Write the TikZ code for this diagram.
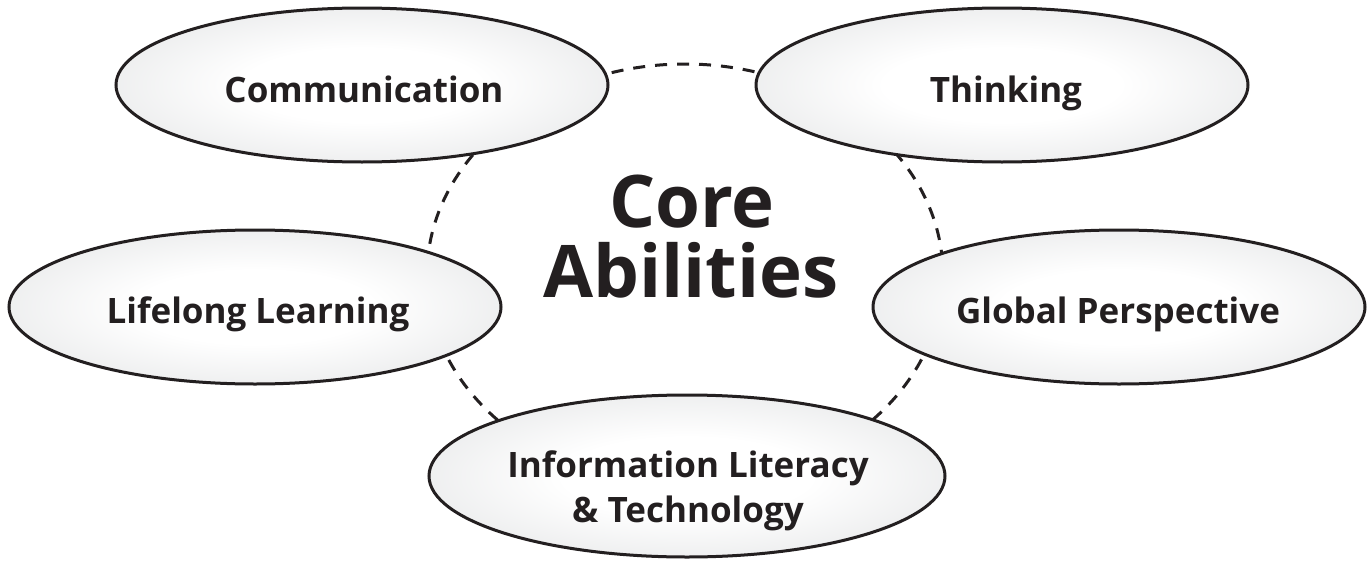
\documentclass[tikz,border=0pt]{standalone}
\usepackage{fontspec}
\setmainfont{Open Sans}
\usetikzlibrary{shapes.geometric}
\definecolor{ink}{HTML}{231F20}
\definecolor{edgegray}{HTML}{CFD1D3}
\pgfdeclareradialshading{ellshade}{\pgfpoint{0bp}{0bp}}{color(0bp)=(white); color(12bp)=(white); color(50bp)=(edgegray)}
\begin{document}
\begin{tikzpicture}[x=0.5pt,y=-0.5pt,
  ability/.style={ellipse, draw=ink, line width=1.5pt, shading=ellshade,
    inner sep=0pt, minimum width=246pt, minimum height=77pt},
  labeltext/.style={inner sep=0pt, anchor=base, text=ink,
    font=\bfseries\fontsize{17.5}{21}\selectfont},
  titletext/.style={inner sep=0pt, anchor=base, text=ink,
    font=\bfseries\fontsize{36.3}{36}\selectfont},
  ring/.style={draw=ink, line width=1.5pt, dash pattern=on 6pt off 5pt}]
\useasboundingbox (0,0) rectangle (1372,562);
\coordinate (ringc) at (685,275);
\draw[ring] (ringc) ellipse [x radius=258, y radius=211];
\node[ability] (comm) at (362,85) {};
\node[ability] (think) at (1002,85) {};
\node[ability] (life) at (255,307) {};
\node[ability] (global) at (1119,307) {};
\node[ability, minimum width=258pt, minimum height=81pt] (info) at (687,476) {};
\node[labeltext] (commtxt) at (364,102) {Communication};
\node[labeltext] (thinktxt) at (1006,102) {Thinking};
\node[labeltext] (lifetxt) at (258,323) {Lifelong Learning};
\node[labeltext] (globaltxt) at (1118,323) {Global Perspective};
\node[labeltext] (infotxta) at (688,477) {Information Literacy};
\node[labeltext] (infotxtb) at (688,522) {\& Technology};
\node[titletext] (coretxt) at (692,227) {Core};
\node[titletext] (abiltxt) at (691,297) {Abilities};
\end{tikzpicture}
\end{document}
